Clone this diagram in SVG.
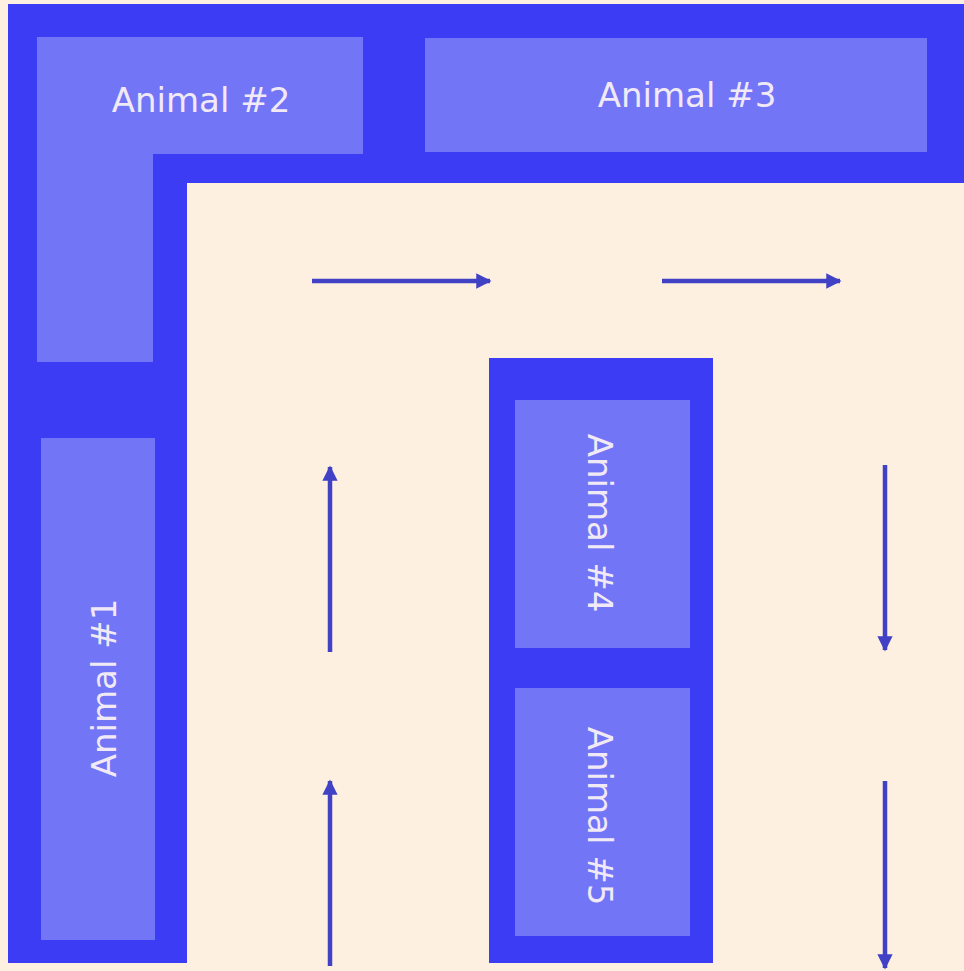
<svg xmlns="http://www.w3.org/2000/svg" width="964" height="971" viewBox="0 0 964 971">
<style>
.wall{fill:#3b3cf3}
.pen{fill:#7275f6}
.lbl{font-family:"DejaVu Sans",sans-serif;font-size:34px;fill:#f1eaf6;text-anchor:middle;dominant-baseline:central}
.arr{stroke:#4141c6;stroke-width:4.5;fill:none;marker-end:url(#ah)}
</style>
<defs>
<marker id="ah" viewBox="0 0 10 10" refX="9" refY="5" markerWidth="4" markerHeight="3.4" orient="auto" markerUnits="strokeWidth">
<path d="M0,0 L10,5 L0,10 Z" fill="#4141c6"/>
</marker>
</defs>
<rect x="0" y="0" width="964" height="971" fill="#fdf0e0"/>
<path class="wall" d="M8,4 H964 V183 H187 V963 H8 Z"/>
<rect class="wall" x="489" y="358" width="224" height="605"/>
<g id="animal2">
<path class="pen" d="M37,37 H363 V154 H153 V362 H37 Z"/>
<text class="lbl" x="201" y="100">Animal #2</text>
</g>
<g id="animal3">
<rect class="pen" x="425" y="38" width="502" height="114"/>
<text class="lbl" x="687" y="95">Animal #3</text>
</g>
<g id="animal1">
<rect class="pen" x="41" y="438" width="114" height="502"/>
<text class="lbl" transform="translate(104,688) rotate(-90)" x="0" y="0">Animal #1</text>
</g>
<g id="animal4">
<rect class="pen" x="515" y="400" width="175" height="248"/>
<text class="lbl" transform="translate(600,523) rotate(90)" x="0" y="0">Animal #4</text>
</g>
<g id="animal5">
<rect class="pen" x="515" y="688" width="175" height="248"/>
<text class="lbl" transform="translate(600,816) rotate(90)" x="0" y="0">Animal #5</text>
</g>
<g id="connectors">
<line class="arr" x1="312" y1="281" x2="490" y2="281"/>
<line class="arr" x1="662" y1="281" x2="840" y2="281"/>
<line class="arr" x1="330" y1="652" x2="330" y2="467"/>
<line class="arr" x1="330" y1="966" x2="330" y2="781"/>
<line class="arr" x1="885" y1="465" x2="885" y2="650"/>
<line class="arr" x1="885" y1="781" x2="885" y2="968"/>
</g>
</svg>
